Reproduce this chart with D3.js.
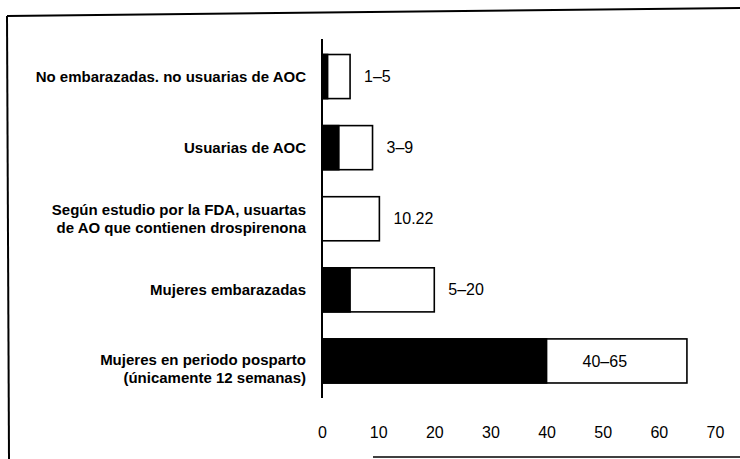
<!DOCTYPE html>
<html>
<head>
<meta charset="utf-8">
<script src="https://cdn.jsdelivr.net/npm/d3@7"></script>
<style>
  html, body { margin: 0; padding: 0; background: #fff; }
  svg { display: block; }
</style>
</head>
<body>
<svg id="chart" width="740" height="459"></svg>
<script>
// ---- data ----
const categories = [
  ["No embarazadas. no usuarias de AOC"],
  ["Usuarias de AOC"],
  ["Según estudio por la FDA, usuartas", "de AO que contienen drospirenona"],
  ["Mujeres embarazadas"],
  ["Mujeres en periodo posparto", "(únicamente 12 semanas)"]
];
const lowValues  = [1, 3, 0, 5, 40];
const highValues = [5, 9, 10.22, 20, 65];
const valueLabels = ["1–5", "3–9", "10.22", "5–20", "40–65"];
const tickValues = [0, 10, 20, 30, 40, 50, 60, 70];
const tickLabels = ["0", "10", "20", "30", "40", "50", "60", "70"];

// ---- layout ----
const svg = d3.select("#chart");
const idx = d3.range(categories.length);

const x = d3.scaleLinear().domain([0, 70]).range([322, 715]);
const y = d3.scaleBand().domain(idx).range([41, 396.5]).paddingInner(0.38).paddingOuter(0.19);

const font = "'Liberation Sans', Arial, Helvetica, sans-serif";

// frame (scanned page border)
svg.append("line").attr("x1", 7).attr("y1", 16).attr("x2", 740).attr("y2", 8)
  .attr("stroke", "#000").attr("stroke-width", 2);
svg.append("line").attr("x1", 7).attr("y1", 16).attr("x2", 9).attr("y2", 459)
  .attr("stroke", "#000").attr("stroke-width", 2);
svg.append("line").attr("x1", 373).attr("y1", 457).attr("x2", 740).attr("y2", 457)
  .attr("stroke", "#000").attr("stroke-width", 1.5);

// bars: white total range, black lower part
const g = svg.append("g");
g.selectAll("rect.hi").data(idx).join("rect")
  .attr("class", "hi")
  .attr("x", x(0))
  .attr("y", i => y(i))
  .attr("width", i => x(highValues[i]) - x(0))
  .attr("height", y.bandwidth())
  .attr("fill", "#fff")
  .attr("stroke", "#000")
  .attr("stroke-width", 1.6);
g.selectAll("rect.lo").data(idx.filter(i => lowValues[i] > 0)).join("rect")
  .attr("class", "lo")
  .attr("x", x(0))
  .attr("y", i => y(i))
  .attr("width", i => x(lowValues[i]) - x(0))
  .attr("height", y.bandwidth())
  .attr("fill", "#000")
  .attr("stroke", "#000")
  .attr("stroke-width", 1.6);

// vertical axis line
svg.append("line").attr("x1", x(0)).attr("x2", x(0)).attr("y1", 39).attr("y2", 398)
  .attr("stroke", "#000").attr("stroke-width", 2);

// value labels
g.selectAll("text.val").data(idx).join("text")
  .attr("class", "val")
  .attr("x", i => i === categories.length - 1 ? x(lowValues[i]) + 36 : x(highValues[i]) + 14)
  .attr("y", i => y(i) + y.bandwidth() / 2)
  .attr("dy", "0.35em")
  .attr("font-family", font)
  .attr("font-size", 16)
  .attr("fill", "#000")
  .text(i => valueLabels[i]);

// category labels
const labelShift = i => (i === categories.length - 1 ? 8 : 0);
const cat = svg.append("g").selectAll("text.cat").data(idx).join("text")
  .attr("class", "cat")
  .attr("text-anchor", "end")
  .attr("font-family", font)
  .attr("font-weight", "bold")
  .attr("font-size", 15)
  .attr("fill", "#000");
cat.each(function(i) {
  const lines = categories[i];
  const cy = y(i) + y.bandwidth() / 2 + labelShift(i);
  const lh = 18;
  const top = cy - (lines.length - 1) * lh / 2;
  d3.select(this).selectAll("tspan").data(lines).join("tspan")
    .attr("x", 306)
    .attr("y", (d, k) => top + k * lh)
    .attr("dy", "0.35em")
    .text(d => d);
});

// x axis tick labels (no domain line, no tick marks)
const xAxis = d3.axisBottom(x).tickValues(tickValues)
  .tickFormat((d, k) => tickLabels[k]).tickSize(0).tickPadding(0);
const ax = svg.append("g").attr("transform", "translate(0,427)").call(xAxis);
ax.select(".domain").remove();
ax.selectAll("text")
  .attr("font-family", font)
  .attr("font-size", 16)
  .attr("fill", "#000");
</script>
</body>
</html>
